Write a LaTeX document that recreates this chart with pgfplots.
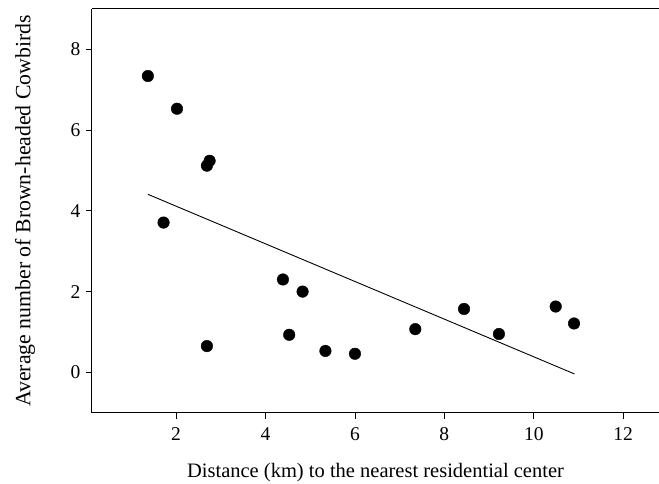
\documentclass[border=0pt]{standalone}
\usepackage{pgfplots}
\pgfplotsset{compat=1.18}
\usepackage{fontspec}
\setmainfont{Liberation Serif}
\begin{document}
\begin{tikzpicture}
\begin{axis}[
  name=ax,
  scale only axis,
  width=567pt, height=403.7pt,
  xmin=0.12, xmax=12.8,
  ymin=-1, ymax=9,
  axis x line*=box,
  axis y line*=left,
  xtick={2,4,6,8,10,12},
  ytick={0,2,4,6,8},
  xtick pos=bottom, ytick pos=left,
  tick align=outside,
  major tick length=6pt,
  tick style={black, line width=0.8pt},
  axis line style={black, line width=1pt},
  /pgf/number format/assume math mode=true,
  ticklabel style={font=\fontsize{19.5}{22}\selectfont},
  xticklabel style={yshift=-5pt},
  yticklabel style={xshift=-2pt},
  xlabel={Distance (km) to the nearest residential center},
  ylabel={Average number of Brown-headed Cowbirds},
  xlabel style={font=\fontsize{20.5}{23}\selectfont, at={(axis description cs:0.5,0)}, anchor=base, yshift=-65pt},
  ylabel style={font=\fontsize{21.8}{24}\selectfont, at={(axis description cs:0,0.5)}, anchor=center, yshift=67pt},
  clip=false,
]
\addplot[only marks, mark=*, mark size=5.8pt, black] coordinates {
 (1.37,7.34) (2.02,6.53) (2.69,5.12) (2.75,5.24) (1.72,3.71) (2.69,0.65)
 (4.39,2.30) (4.83,2.00) (4.53,0.93) (5.34,0.53) (6.00,0.46) (7.35,1.07)
 (8.44,1.57) (9.22,0.95) (10.49,1.63) (10.90,1.21)
};
\addplot[black, line width=0.9pt] coordinates {(1.37,4.41) (10.91,-0.04)};
\end{axis}
\pgfresetboundingbox
\path[use as bounding box] ([xshift=-92pt,yshift=-70.3pt]ax.south west) rectangle ([yshift=9pt]ax.north east);
\end{tikzpicture}
\end{document}
